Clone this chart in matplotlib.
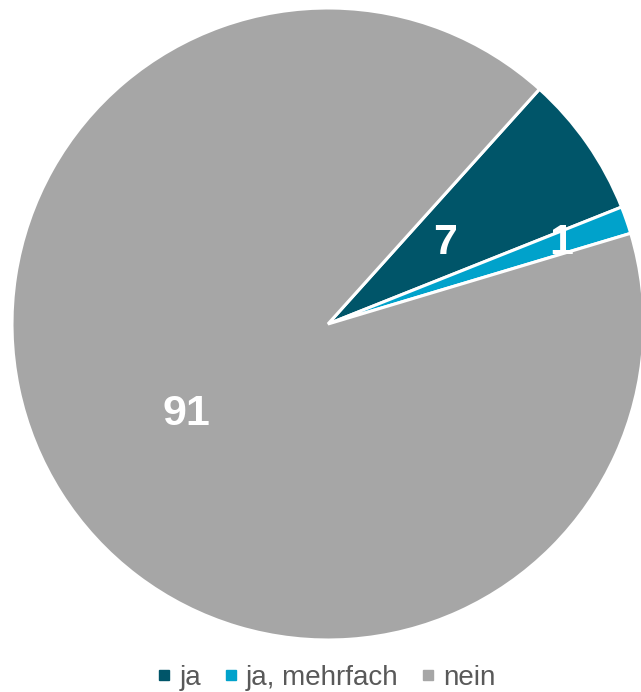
import matplotlib.pyplot as plt
import numpy as np
from matplotlib.lines import Line2D

plt.rcParams['font.family'] = ['Liberation Sans', 'DejaVu Sans']

# data
labels = ['ja', 'ja, mehrfach', 'nein']
values = [7.3, 1.4, 91.3]
colors = ['#005569', '#00a2cb', '#a6a6a6']
label_dist = [0.45, 0.78, 0.53]

fig = plt.figure(figsize=(6.41, 6.92), dpi=100)
ax = fig.add_axes([12 / 641, 52 / 692, 632 / 641, 632 / 692])

wedges, _ = ax.pie(values, colors=colors, startangle=48, counterclock=False,
                   wedgeprops=dict(edgecolor='white', linewidth=2.2))
ax.set_xlim(-1, 1)
ax.set_ylim(-1, 1)
ax.set_aspect('equal')

for w, v, d in zip(wedges, values, label_dist):
    ang = np.deg2rad((w.theta1 + w.theta2) / 2)
    ax.text(d * np.cos(ang), d * np.sin(ang), str(int(round(v))),
            ha='center', va='center', color='white', fontsize=31, fontweight='bold')

handles = [Line2D([], [], marker='s', linestyle='none', markersize=6.5,
                  markerfacecolor=c, markeredgecolor=c) for c in colors]
fig.legend(handles, labels, loc='lower center', bbox_to_anchor=(0.505, -0.035), ncol=3,
           frameon=False, fontsize=20, handletextpad=0.1, columnspacing=0.62,
           handlelength=0.9, labelcolor='#595959')

plt.savefig('out.png', dpi=100)
